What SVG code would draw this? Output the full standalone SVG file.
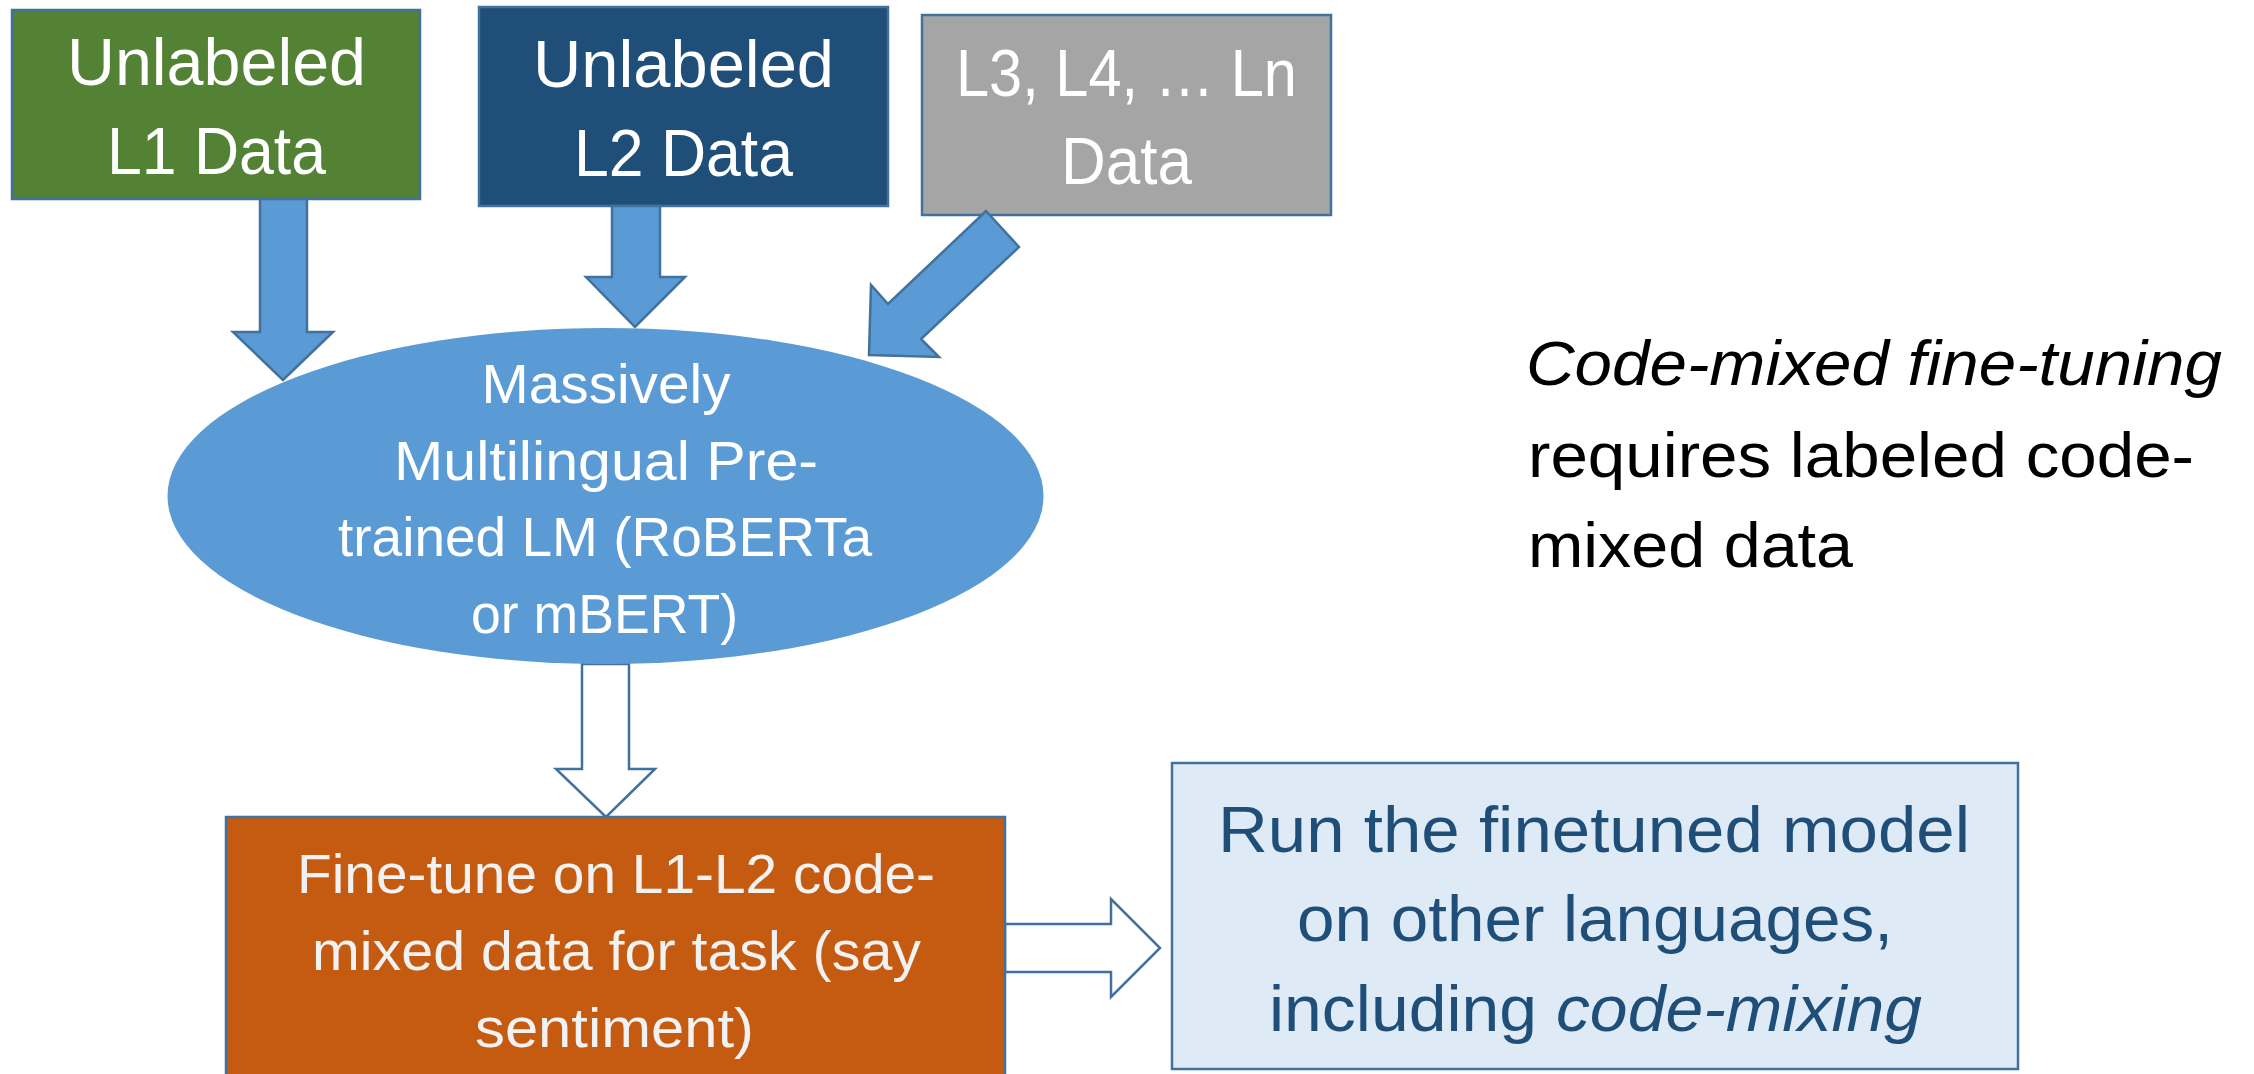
<svg xmlns="http://www.w3.org/2000/svg" width="2254" height="1074" viewBox="0 0 2254 1074">
  <style>
    text { font-family: "Liberation Sans", Arial, sans-serif; }
    .box { stroke: #41719C; stroke-width: 2.5; }
    .solid-arrow { fill: #5B9BD5; stroke: #41719C; stroke-width: 2.5; stroke-linejoin: miter; }
    .hollow-arrow { fill: #FFFFFF; stroke: #41719C; stroke-width: 2.5; stroke-linejoin: miter; }
    .w { fill: #FFFFFF; text-anchor: middle; }
    .src { font-size: 67px; }
    .mid { font-size: 55px; }
    .run { fill: #1F4E79; font-size: 64px; text-anchor: middle; }
    .note { fill: #000000; font-size: 63px; }
  </style>
  <rect width="2254" height="1074" fill="#FFFFFF"/>

  <!-- pre-training data sources -->
  <g id="l1-data">
    <rect class="box" x="12" y="10" width="408" height="189" fill="#548235"/>
    <text class="w src" x="216.5" y="85" textLength="299" lengthAdjust="spacingAndGlyphs">Unlabeled</text>
    <text class="w src" x="216.5" y="174" textLength="219" lengthAdjust="spacingAndGlyphs">L1 Data</text>
  </g>
  <g id="l2-data">
    <rect class="box" x="479" y="7" width="409" height="199" fill="#1F4E79"/>
    <text class="w src" x="683.5" y="87" textLength="301" lengthAdjust="spacingAndGlyphs">Unlabeled</text>
    <text class="w src" x="683.5" y="176" textLength="219" lengthAdjust="spacingAndGlyphs">L2 Data</text>
  </g>
  <g id="ln-data">
    <rect class="box" x="922" y="15" width="409" height="200" fill="#A5A5A5"/>
    <text class="w src" x="1126.5" y="96" textLength="341" lengthAdjust="spacingAndGlyphs">L3, L4, … Ln</text>
    <text class="w src" x="1126.5" y="184" textLength="131" lengthAdjust="spacingAndGlyphs">Data</text>
  </g>

  <!-- connectors -->
  <g id="connectors">
    <polygon class="solid-arrow" points="260,199 307,199 307,332 333,332 283,380 233,332 260,332"/>
    <polygon class="solid-arrow" points="612,206 660,206 660,277 685,277 635,327 586,277 612,277"/>
    <polygon class="solid-arrow" points="986,211 1019,247 921,339 939,357 869,355 871,285 888,304"/>
    <polygon class="hollow-arrow" points="582,664 629,664 629,769 655,769 606,817 556,769 582,769"/>
    <polygon class="hollow-arrow" points="1005,924 1111,924 1111,899 1160,948 1111,997 1111,972 1005,972"/>
  </g>

  <!-- pre-trained model -->
  <g id="pretrained-lm">
    <ellipse cx="605.5" cy="496" rx="438" ry="168" fill="#5B9BD5"/>
    <text class="w mid" x="606" y="403" textLength="249" lengthAdjust="spacingAndGlyphs">Massively</text>
    <text class="w mid" x="606" y="480" textLength="424" lengthAdjust="spacingAndGlyphs">Multilingual Pre-</text>
    <text class="w mid" x="605" y="556" textLength="534" lengthAdjust="spacingAndGlyphs">trained LM (RoBERTa</text>
    <text class="w mid" x="604.5" y="633" textLength="267" lengthAdjust="spacingAndGlyphs">or mBERT)</text>
  </g>

  <!-- fine-tuning step -->
  <g id="fine-tune">
    <rect class="box" x="226" y="817" width="779" height="270" fill="#C55A11"/>
    <text class="w mid" x="616" y="893" fill="#F2F2F2" style="fill:#F2F2F2" textLength="638" lengthAdjust="spacingAndGlyphs">Fine-tune on L1-L2 code-</text>
    <text class="w mid" x="616.5" y="970" style="fill:#F2F2F2" textLength="609" lengthAdjust="spacingAndGlyphs">mixed data for task (say</text>
    <text class="w mid" x="614.5" y="1047" style="fill:#F2F2F2" textLength="279" lengthAdjust="spacingAndGlyphs">sentiment)</text>
  </g>

  <!-- evaluation step -->
  <g id="run-model">
    <rect class="box" x="1172" y="763" width="846" height="306" fill="#DEEBF7"/>
    <text class="run" x="1594" y="852" textLength="752" lengthAdjust="spacingAndGlyphs">Run the finetuned model</text>
    <text class="run" x="1595" y="941" textLength="596" lengthAdjust="spacingAndGlyphs">on other languages,</text>
    <text class="run" x="1595.5" y="1031" textLength="653" lengthAdjust="spacingAndGlyphs">including <tspan font-style="italic">code-mixing</tspan></text>
  </g>

  <!-- side note -->
  <g id="note">
    <text class="note" x="1526" y="385" font-style="italic" textLength="696" lengthAdjust="spacingAndGlyphs">Code-mixed fine-tuning</text>
    <text class="note" x="1528" y="477" textLength="666" lengthAdjust="spacingAndGlyphs">requires labeled code-</text>
    <text class="note" x="1528" y="567" textLength="325" lengthAdjust="spacingAndGlyphs">mixed data</text>
  </g>
</svg>
